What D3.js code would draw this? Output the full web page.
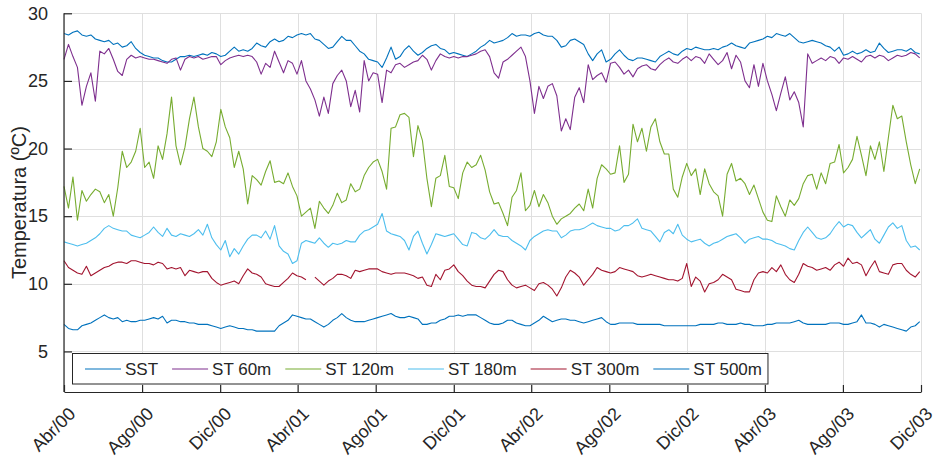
<!DOCTYPE html>
<html>
<head>
<meta charset="utf-8">
<script src="https://cdn.jsdelivr.net/npm/d3@7"></script>
<style>
body { margin: 0; background: #fff; }
svg text { font-family: "Liberation Sans", Arial, Helvetica, sans-serif; fill: #262626; }
</style>
</head>
<body>
<div id="chart"></div>
<script>
// Legend order = drawing order
var seriesNames = ["SST", "ST 60m", "ST 120m", "ST 180m", "ST 300m", "ST 500m"];
var seriesColors = ["#0072BD", "#7E2F8E", "#77AC30", "#4DBEEE", "#A2142F", "#0072BD"];

// Weekly readings (ºC) starting 1 Apr 2000
var sst = [
28.5,28.4,28.6,28.7,28.4,28.3,28.4,28.1,28.0,27.9,28.0,27.7,27.8,27.5,27.6,27.9,
27.4,27.1,26.9,26.8,26.7,26.7,26.5,26.4,26.4,26.6,26.8,26.8,26.9,26.8,26.9,27.0,
26.9,27.1,27.0,26.8,26.9,27.2,27.5,27.2,27.3,27.2,27.4,27.8,27.6,27.5,27.9,28.1,
27.9,28.0,28.3,28.2,28.4,28.5,28.4,28.5,28.1,28.0,27.7,27.4,27.5,27.9,28.3,28.0,
28.0,27.6,27.2,27.0,26.6,26.5,26.4,26.0,26.7,27.5,26.6,26.8,27.3,27.6,27.2,26.9,
27.1,27.4,27.6,27.7,27.4,27.3,27.0,27.1,27.0,26.9,26.8,27.0,27.2,27.5,27.7,28.0,
27.8,27.9,28.0,28.2,28.5,28.3,28.4,28.4,28.3,28.5,28.6,28.4,28.3,28.3,28.0,27.5,
27.6,28.0,28.1,27.9,27.7,27.0,26.5,27.0,27.3,26.4,26.6,27.0,27.3,26.9,26.6,26.5,
26.7,26.7,26.6,26.5,26.4,26.8,27.0,27.2,27.0,26.9,27.2,27.4,27.3,27.5,27.4,27.3,
27.3,27.4,27.3,27.5,27.6,27.8,27.6,27.5,27.4,27.8,27.9,28.0,28.1,28.3,28.2,28.5,
28.4,28.3,28.5,28.2,27.9,27.8,27.9,28.0,27.9,27.8,27.6,27.5,27.2,27.5,26.9,27.0,
27.2,27.0,27.1,27.3,27.1,27.2,27.8,27.4,27.1,27.2,27.3,27.3,27.2,27.4,27.1,27.0
];
var st60 = [
26.6,27.7,26.8,26.0,23.2,24.6,25.6,23.5,27.2,27.0,27.4,26.6,25.7,25.4,26.6,26.9,
26.7,26.8,26.7,26.6,26.6,26.5,26.4,26.3,26.6,26.7,25.8,26.6,26.8,26.7,26.8,26.6,
26.7,26.8,26.8,26.2,26.5,26.7,26.8,26.9,26.8,26.9,26.8,26.4,25.5,26.3,26.0,27.2,
26.4,25.6,26.5,26.3,25.5,26.5,25.0,24.4,23.6,22.4,23.8,22.6,24.8,25.4,25.8,25.0,
23.1,24.3,22.7,26.5,25.0,25.6,25.5,23.4,25.8,25.6,26.2,26.3,26.0,26.2,26.4,26.5,
26.9,26.6,25.8,26.5,27.0,26.8,26.7,26.8,26.7,26.8,26.8,26.9,27.0,27.2,27.3,26.8,
25.6,25.2,26.4,26.6,26.9,27.2,27.5,26.8,25.0,22.6,24.6,23.7,24.6,24.8,23.9,21.3,
22.2,21.4,23.8,24.5,23.4,26.2,25.1,25.4,25.6,24.9,26.3,26.4,26.0,25.5,25.8,25.3,
25.9,26.1,26.2,25.9,25.8,26.2,26.5,26.7,26.4,26.3,26.6,26.8,26.5,26.8,26.7,26.3,
27.0,26.6,26.2,26.5,27.1,25.9,26.9,26.4,25.0,24.5,26.2,24.6,26.3,25.0,24.0,22.8,
24.1,25.3,23.6,24.2,23.4,21.6,27.0,26.3,26.5,26.7,26.5,26.8,26.7,26.3,26.7,26.6,
26.8,26.6,26.4,26.8,26.9,26.7,26.9,26.8,26.5,26.7,26.9,26.8,26.9,27.1,27.0,26.7
];
var st120 = [
17.2,15.6,17.9,14.7,16.9,16.1,16.6,17.0,16.8,16.0,16.6,15.0,17.1,19.8,18.6,19.0,
19.8,21.5,18.6,19.0,17.8,20.2,19.2,21.1,23.8,20.2,18.8,20.1,22.2,23.8,21.6,20.0,
19.8,19.4,20.5,22.9,21.6,20.8,18.6,19.8,18.5,15.9,18.0,17.7,17.3,18.3,19.1,17.5,
17.6,17.4,18.2,17.2,16.5,15.0,15.3,15.6,14.1,16.1,15.6,15.2,15.8,16.7,16.0,16.2,
17.4,16.8,17.0,18.0,18.6,19.0,19.2,18.3,17.0,21.5,21.6,22.5,22.6,22.3,19.4,21.7,
20.6,17.8,15.7,17.8,18.0,19.5,17.2,17.1,16.3,18.2,19.0,18.6,18.8,19.5,18.4,16.8,
15.9,16.0,15.2,14.3,16.4,16.9,18.2,15.4,15.8,16.9,15.7,16.6,16.0,15.0,14.4,14.8,
15.0,15.2,15.6,15.9,15.4,17.0,15.6,17.8,18.8,18.5,18.1,18.2,20.2,17.5,18.1,21.8,
20.5,21.5,19.8,21.6,22.2,20.5,19.6,19.6,17.0,16.4,17.9,18.9,18.0,18.5,16.6,18.5,
17.4,16.8,16.5,15.0,18.1,18.9,17.6,17.8,17.4,16.6,17.3,16.3,15.3,14.7,14.6,16.5,
15.7,15.0,16.2,15.8,16.3,17.4,18.0,18.1,17.0,18.2,17.4,18.9,19.0,20.3,18.2,18.6,
19.2,20.9,19.5,18.0,20.2,19.2,20.5,18.3,20.8,23.2,22.2,22.4,20.5,18.8,17.4,18.5
];
var st180 = [
13.1,13.0,12.9,12.8,12.9,13.0,13.2,13.4,13.7,14.1,14.3,14.1,14.0,13.9,13.9,13.6,
13.5,13.4,13.6,13.8,14.2,13.8,13.5,14.1,13.6,13.5,13.7,13.6,13.5,13.7,14.0,13.6,
14.4,13.4,12.9,12.5,13.2,12.0,12.6,12.2,12.8,13.3,13.6,13.6,13.4,13.9,13.3,14.3,
12.8,12.4,12.2,11.5,11.7,13.0,13.2,13.1,13.0,13.4,13.0,12.7,13.0,12.9,13.0,13.2,
13.1,13.1,13.6,13.9,14.0,14.2,14.4,15.2,13.9,13.7,13.6,13.5,13.2,12.5,13.5,13.9,
13.0,12.2,12.9,13.7,13.6,13.5,13.6,13.7,13.3,12.9,12.8,13.8,13.7,13.4,13.3,13.6,
14.0,13.6,13.5,13.5,13.2,13.0,12.8,12.5,13.2,13.5,13.7,13.9,14.0,13.9,13.9,13.4,
13.6,13.9,14.0,14.0,14.1,14.3,14.5,14.3,14.2,14.1,14.1,13.9,14.0,14.3,14.3,14.5,
14.8,14.1,14.0,13.9,13.5,13.1,13.8,14.0,13.7,14.4,13.6,13.3,13.1,13.2,13.3,13.0,
12.8,13.0,13.1,13.3,13.5,13.6,13.7,13.4,13.0,13.3,13.4,13.5,13.3,13.3,13.2,13.0,
12.9,12.8,12.6,12.5,13.2,13.8,14.2,13.8,13.4,13.3,13.4,13.7,14.2,14.6,14.2,14.4,
14.3,13.8,13.4,13.7,14.0,13.3,13.0,13.6,14.2,14.5,14.1,14.3,13.2,12.7,12.8,12.5
];
var st300 = [
11.7,11.2,11.0,10.8,10.7,11.3,10.6,10.8,11.0,11.2,11.3,11.5,11.6,11.6,11.5,11.7,
11.7,11.6,11.5,11.5,11.4,11.6,11.5,11.1,11.2,11.1,11.2,10.6,11.0,10.9,10.8,10.9,
10.9,10.4,10.1,9.9,10.0,10.1,10.2,10.0,10.6,11.1,10.8,10.7,10.5,10.0,9.9,9.8,
9.8,10.1,10.4,10.8,10.6,10.5,10.3,null,10.5,10.2,9.9,10.2,10.4,10.7,10.7,10.6,
10.4,11.0,10.9,11.0,11.1,11.1,11.1,10.9,10.8,10.7,10.8,10.8,10.8,10.7,10.6,10.4,
10.5,9.9,9.8,10.7,10.3,11.0,11.1,11.4,10.9,10.6,10.2,9.9,9.8,9.8,9.7,10.2,
10.7,11.0,10.9,10.3,9.9,9.7,9.8,9.9,9.7,9.5,10.0,10.1,9.9,9.6,9.1,9.7,
10.5,11.0,10.8,10.5,9.9,10.3,10.7,11.2,11.0,10.9,10.8,10.9,11.2,11.1,11.0,10.9,
10.6,10.5,10.6,10.7,10.6,10.5,10.4,10.3,10.3,10.2,10.4,11.5,9.8,10.5,10.2,9.4,
10.0,10.1,10.3,10.7,10.5,10.3,9.6,9.5,9.4,9.4,10.3,10.8,10.9,10.8,11.2,10.9,
11.4,10.7,10.3,10.1,10.7,11.5,11.3,11.2,11.0,11.1,11.2,11.0,11.4,11.6,11.3,11.9,
11.5,11.6,11.4,10.6,11.2,11.7,10.9,10.8,10.7,11.4,11.5,11.5,11.0,10.7,10.5,10.9
];
var st500 = [
7.0,6.7,6.6,6.6,6.9,7.0,7.1,7.3,7.5,7.7,7.5,7.4,7.5,7.2,7.3,7.2,
7.2,7.3,7.3,7.4,7.5,7.4,7.6,7.1,7.3,7.3,7.2,7.2,7.1,7.1,7.0,7.0,
7.0,6.9,6.8,6.7,6.8,6.9,6.8,6.7,6.7,6.6,6.6,6.5,6.5,6.5,6.5,6.5,
6.9,7.1,7.3,7.7,7.6,7.5,7.4,7.4,7.2,7.0,6.8,7.0,7.3,7.5,7.8,7.5,
7.3,7.2,7.2,7.2,7.3,7.4,7.5,7.6,7.7,7.8,7.6,7.5,7.5,7.6,7.5,7.4,
7.0,7.0,7.1,7.1,7.3,7.4,7.6,7.6,7.7,7.6,7.7,7.7,7.7,7.5,7.3,7.1,
7.0,7.0,7.1,7.3,7.3,7.1,7.0,6.9,6.9,7.1,7.3,7.6,7.4,7.2,7.3,7.4,
7.4,7.3,7.3,7.2,7.1,7.2,7.3,7.4,7.5,7.2,7.0,7.0,7.1,7.1,7.1,7.1,
7.0,7.0,7.0,7.0,7.0,7.0,6.9,6.9,6.9,6.9,6.9,6.9,6.9,6.9,7.0,7.0,
7.0,7.0,7.1,7.1,7.0,7.0,7.0,7.1,7.0,7.0,6.9,6.9,6.9,7.0,7.0,7.1,
7.1,7.1,7.1,7.2,7.3,7.1,7.0,7.0,7.0,7.0,7.0,7.1,7.1,7.1,7.0,7.0,
7.1,7.2,7.7,7.1,7.1,7.0,6.8,7.0,6.9,6.8,6.7,6.6,6.5,6.8,6.9,7.2
];
var allSeries = [sst, st60, st120, st180, st300, st500];

var yTicks = [5, 10, 15, 20, 25, 30];
var monthNames = ["Ene", "Feb", "Mar", "Abr", "May", "Jun", "Jul", "Ago", "Sep", "Oct", "Nov", "Dic"];

var startDate = new Date(Date.UTC(2000, 3, 1));
var endDate = new Date(Date.UTC(2003, 11, 1));
var dates = sst.map(function(d, i) { return d3.utcDay.offset(startDate, 7 * i); });

// Size of the picture and plot box
var w = 938;
var h = 460;
var plotLeft = 64, plotRight = 921, plotTop = 13.3, plotBottom = 392;

var svg = d3.select("#chart")
	.append("svg")
	.attr("width", w)
	.attr("height", h);

var x = d3.scaleUtc().domain([startDate, endDate]).range([plotLeft, plotRight]);
var y = d3.scaleLinear().domain([2, 30]).range([plotBottom, plotTop]);

var xTicks = d3.utcMonth.range(startDate, d3.utcDay.offset(endDate, 1), 4);

// grid
var grid = svg.append("g").attr("stroke", "#dfdfdf").attr("stroke-width", 1);
grid.selectAll("line.gx")
	.data(xTicks)
	.enter()
	.append("line")
	.attr("x1", function(d) { return Math.round(x(d)) + 0.5; })
	.attr("x2", function(d) { return Math.round(x(d)) + 0.5; })
	.attr("y1", plotTop)
	.attr("y2", plotBottom);
grid.selectAll("line.gy")
	.data(yTicks)
	.enter()
	.append("line")
	.attr("x1", plotLeft)
	.attr("x2", plotRight)
	.attr("y1", function(d) { return Math.round(y(d)) + 0.5; })
	.attr("y2", function(d) { return Math.round(y(d)) + 0.5; });

// series lines
var line = d3.line()
	.defined(function(d) { return d != null; })
	.x(function(d, i) { return x(dates[i]); })
	.y(function(d) { return y(d); });

svg.append("g")
	.selectAll("path")
	.data(allSeries)
	.enter()
	.append("path")
	.attr("fill", "none")
	.attr("stroke", function(d, i) { return seriesColors[i]; })
	.attr("stroke-width", 1.1)
	.attr("stroke-linejoin", "round")
	.attr("d", line);

// axes (MATLAB look: ticks pointing inside)
var yAxis = d3.axisLeft(y).tickValues(yTicks).tickSizeInner(-8).tickSizeOuter(0).tickPadding(16);
var gy = svg.append("g").attr("transform", "translate(" + plotLeft + ",0)").call(yAxis);
gy.select(".domain").attr("stroke", "#262626").attr("stroke-width", 1.2).attr("d", "M0," + plotTop + "V" + plotBottom);
gy.selectAll(".tick line").attr("stroke", "#262626").attr("stroke-width", 1.2);
gy.selectAll(".tick text").attr("font-size", 18).attr("fill", "#262626")
	.attr("font-family", "Liberation Sans, Arial, sans-serif");

var xAxis = d3.axisBottom(x).tickValues(xTicks).tickSizeInner(-7).tickSizeOuter(0).tickFormat(function(d) {
	return monthNames[d.getUTCMonth()] + "/" + String(d.getUTCFullYear()).slice(2);
});
var gx = svg.append("g").attr("transform", "translate(0," + plotBottom + ")").call(xAxis);
gx.select(".domain").attr("stroke", "#262626").attr("stroke-width", 1.2);
gx.selectAll(".tick line").attr("stroke", "#262626").attr("stroke-width", 1.2);
gx.selectAll(".tick text")
	.attr("font-size", 18)
	.attr("fill", "#262626")
	.attr("font-family", "Liberation Sans, Arial, sans-serif")
	.attr("text-anchor", "end")
	.attr("dy", null)
	.attr("y", null)
	.attr("transform", "translate(12,23) rotate(-45)");

// y label
svg.append("text")
	.attr("transform", "translate(26," + ((plotTop + plotBottom) / 2) + ") rotate(-90)")
	.attr("text-anchor", "middle")
	.attr("font-size", 20)
	.text("Temperatura (ºC)");

// legend
var legend = svg.append("g");
var legBox = legend.append("rect")
	.attr("x", 72.5)
	.attr("y", 353.5)
	.attr("height", 30.5)
	.attr("fill", "#fff")
	.attr("stroke", "#262626")
	.attr("stroke-width", 1);
var cx = 85;
seriesNames.forEach(function(name, i) {
	legend.append("line")
		.attr("x1", cx).attr("x2", cx + 36)
		.attr("y1", 369).attr("y2", 369)
		.attr("stroke", seriesColors[i])
		.attr("stroke-width", 1.1);
	var t = legend.append("text")
		.attr("x", cx + 40)
		.attr("y", 369)
		.attr("dy", "0.35em")
		.attr("font-size", 17)
		.text(name);
	cx += 40 + t.node().getComputedTextLength() + 14;
});
legBox.attr("width", cx - 14 + 6 - 72.5);
</script>
</body>
</html>
